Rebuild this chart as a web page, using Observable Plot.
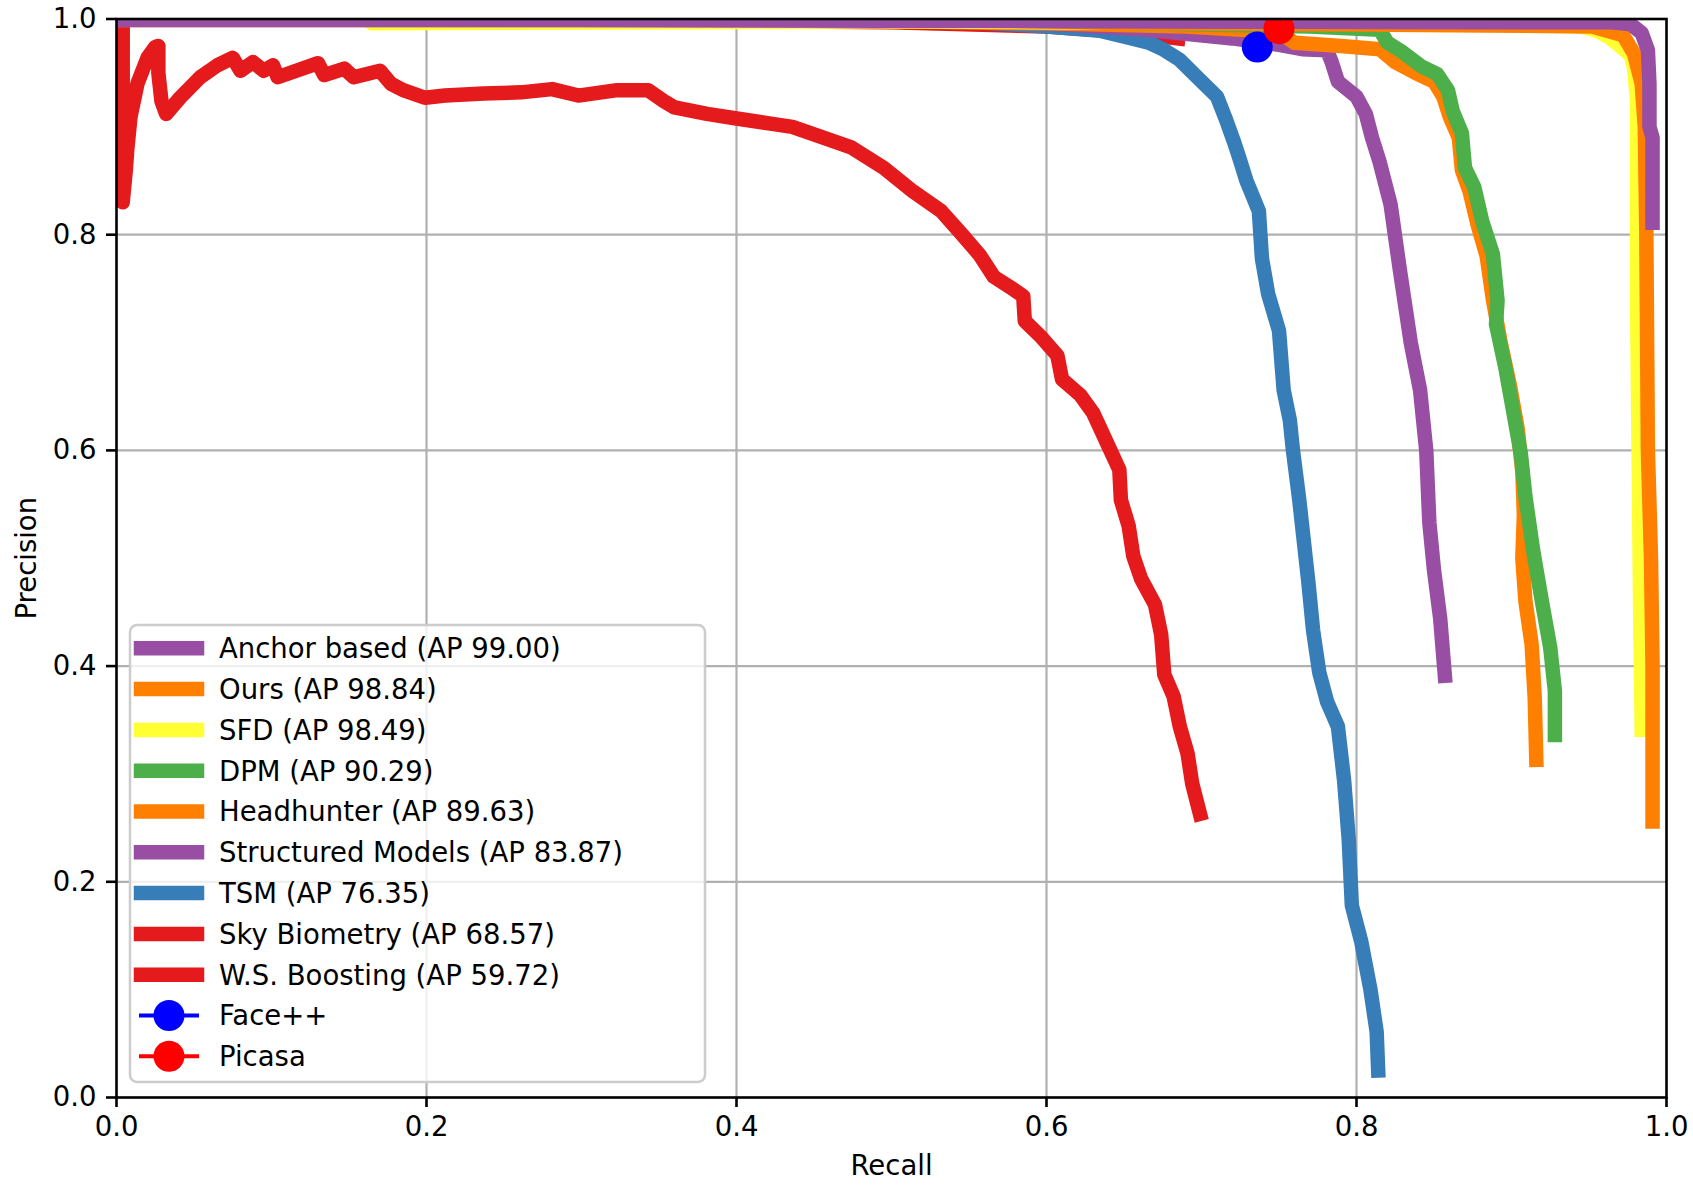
<!DOCTYPE html>
<html>
<head>
<meta charset="utf-8">
<script src="https://cdn.jsdelivr.net/npm/d3@7"></script>
<script src="https://cdn.jsdelivr.net/npm/@observablehq/plot@0.6"></script>
<style>
  html, body { margin: 0; padding: 0; background: white; }
  #chart { position: relative; width: 1693px; height: 1188px; }
</style>
</head>
<body>
<div id="chart"></div>
<script>
// ---------- data (recall, precision) ----------
const anchorBased = [[0,0.999],[0.3,0.999],[0.6,0.998],[0.9,0.997],[0.965,0.997],[0.977,0.995],[0.984,0.987],[0.988,0.971],[0.989,0.94],[0.989,0.9],[0.991,0.89],[0.991,0.811]];
const ours = [[0,0.999],[0.5,0.999],[0.6,0.998],[0.65,0.996],[0.8,0.995],[0.884,0.994],[0.952,0.993],[0.972,0.985],[0.979,0.968],[0.984,0.94],[0.986,0.9],[0.987,0.8],[0.988,0.6],[0.989,0.55],[0.99,0.5],[0.991,0.4],[0.991,0.256]];
const sfd = [[0,1.0],[0.16,1.0],[0.165,0.996],[0.38,0.997],[0.49,0.998],[0.6,0.997],[0.8,0.996],[0.9,0.995],[0.945,0.993],[0.955,0.989],[0.963,0.983],[0.97,0.975],[0.977,0.966],[0.979,0.955],[0.98,0.94],[0.981,0.925],[0.981,0.74],[0.982,0.6],[0.983,0.45],[0.984,0.341]];
const dpm = [[0,1.0],[0.6,0.998],[0.7,0.995],[0.77,0.993],[0.815,0.99],[0.82,0.978],[0.83,0.969],[0.842,0.956],[0.852,0.949],[0.859,0.934],[0.862,0.915],[0.868,0.894],[0.87,0.862],[0.876,0.844],[0.881,0.813],[0.888,0.782],[0.891,0.739],[0.89,0.717],[0.896,0.677],[0.901,0.637],[0.906,0.597],[0.909,0.557],[0.914,0.507],[0.92,0.457],[0.925,0.417],[0.928,0.377],[0.928,0.336]];
const headhunter = [[0,1.0],[0.45,0.999],[0.6,0.996],[0.69,0.993],[0.75,0.988],[0.76,0.978],[0.79,0.975],[0.815,0.972],[0.825,0.96],[0.838,0.95],[0.85,0.942],[0.856,0.928],[0.86,0.91],[0.866,0.89],[0.868,0.86],[0.873,0.84],[0.878,0.81],[0.884,0.78],[0.888,0.74],[0.893,0.7],[0.899,0.66],[0.904,0.62],[0.907,0.58],[0.908,0.54],[0.907,0.5],[0.909,0.46],[0.913,0.42],[0.915,0.37],[0.916,0.313]];
const structuredModels = [[0,1.0],[0.5,0.998],[0.6,0.996],[0.664,0.99],[0.72,0.982],[0.75,0.976],[0.765,0.972],[0.781,0.971],[0.784,0.96],[0.788,0.942],[0.8,0.928],[0.806,0.912],[0.81,0.89],[0.815,0.867],[0.822,0.828],[0.828,0.767],[0.835,0.7],[0.841,0.656],[0.845,0.6],[0.847,0.533],[0.85,0.489],[0.854,0.444],[0.857,0.391]];
const tsm = [[0,1.0],[0.5,0.999],[0.543,0.998],[0.6,0.993],[0.635,0.989],[0.655,0.982],[0.666,0.978],[0.675,0.972],[0.686,0.962],[0.698,0.945],[0.71,0.928],[0.716,0.906],[0.721,0.886],[0.724,0.873],[0.729,0.85],[0.737,0.822],[0.739,0.778],[0.743,0.745],[0.75,0.711],[0.753,0.656],[0.757,0.628],[0.759,0.6],[0.763,0.555],[0.766,0.516],[0.769,0.477],[0.772,0.433],[0.776,0.394],[0.781,0.367],[0.788,0.344],[0.792,0.294],[0.795,0.239],[0.797,0.178],[0.803,0.145],[0.809,0.1],[0.813,0.061],[0.814,0.025]];
const skyBiometry = [[0,1.0],[0.3,0.999],[0.5,0.997],[0.6,0.993],[0.65,0.988],[0.685,0.982]];
const wsBoosting = [[0.004,1.0],[0.004,0.83],[0.006,0.86],[0.007,0.88],[0.009,0.909],[0.0135,0.94],[0.02,0.964],[0.025,0.974],[0.027,0.975],[0.027,0.95],[0.029,0.924],[0.032,0.912],[0.041,0.927],[0.054,0.946],[0.065,0.957],[0.075,0.964],[0.08,0.952],[0.088,0.96],[0.095,0.952],[0.101,0.957],[0.104,0.946],[0.13,0.959],[0.134,0.948],[0.147,0.954],[0.153,0.946],[0.17,0.952],[0.177,0.94],[0.185,0.934],[0.199,0.927],[0.212,0.929],[0.237,0.931],[0.261,0.932],[0.281,0.935],[0.298,0.929],[0.323,0.934],[0.343,0.934],[0.353,0.924],[0.36,0.918],[0.381,0.912],[0.399,0.908],[0.422,0.903],[0.436,0.9],[0.456,0.89],[0.474,0.881],[0.495,0.862],[0.514,0.84],[0.532,0.822],[0.545,0.801],[0.557,0.781],[0.566,0.761],[0.579,0.749],[0.585,0.743],[0.586,0.72],[0.596,0.706],[0.607,0.688],[0.61,0.666],[0.622,0.651],[0.63,0.635],[0.639,0.607],[0.647,0.582],[0.648,0.554],[0.653,0.53],[0.656,0.502],[0.661,0.481],[0.67,0.457],[0.674,0.429],[0.676,0.392],[0.682,0.372],[0.686,0.344],[0.691,0.319],[0.694,0.291],[0.699,0.263]];
const facePP = [[0.736,0.974]];
const picasa = [[0.750,0.991]];

const seriesNames = ["Anchor based (AP 99.00)","Ours (AP 98.84)","SFD (AP 98.49)","DPM (AP 90.29)","Headhunter (AP 89.63)","Structured Models (AP 83.87)","TSM (AP 76.35)","Sky Biometry (AP 68.57)","W.S. Boosting (AP 59.72)"];
const seriesColors = ["#984ea3","#ff7f00","#ffff33","#4daf4a","#ff7f00","#984ea3","#377eb8","#e41a1c","#e41a1c"];
const seriesData = [anchorBased, ours, sfd, dpm, headhunter, structuredModels, tsm, skyBiometry, wsBoosting];
const pointNames = ["Face++","Picasa"];
const pointColors = ["#0000ff","#ff0000"];
const pointData = [facePP, picasa];
const xTicks = [0,0.2,0.4,0.6,0.8,1.0];
const yTicks = [0,0.2,0.4,0.6,0.8,1.0];
const gridTicks = [0.2,0.4,0.6,0.8];

// ---------- chart ----------
const FS = 27.5;
const LW = 14.5;
const lineMarks = seriesData.map((d, i) => Plot.line(d, {
  x: p => p[0], y: p => p[1], stroke: seriesColors[i], strokeWidth: LW,
  strokeLinecap: "square", strokeLinejoin: "round", clip: true
})).reverse();
const dotMarks = pointData.map((d, i) => Plot.dot(d, {
  x: p => p[0], y: p => p[1], r: 15.5, fill: pointColors[i], stroke: "none", clip: true
}));

const plot = Plot.plot({
  width: 1693, height: 1188,
  marginLeft: 116, marginRight: 27, marginTop: 18.5, marginBottom: 91,
  style: {fontFamily: "'DejaVu Sans', sans-serif", fontSize: FS + "px", background: "white", color: "black"},
  x: {domain: [0, 1]},
  y: {domain: [0, 1]},
  marks: [
    Plot.gridX(gridTicks, {stroke: "#b0b0b0", strokeOpacity: 1, strokeWidth: 2.2}),
    Plot.gridY(gridTicks, {stroke: "#b0b0b0", strokeOpacity: 1, strokeWidth: 2.2}),
    ...lineMarks,
    ...dotMarks,
    Plot.frame({stroke: "black", strokeWidth: 2.6}),
    Plot.axisX(xTicks, {tickFormat: d3.format(".1f"), tickSize: 10, tickPadding: 9, strokeWidth: 2.6, fontSize: FS, label: null}),
    Plot.axisY(yTicks, {tickFormat: d3.format(".1f"), tickSize: 10, tickPadding: 10, strokeWidth: 2.6, fontSize: FS, label: null}),
    Plot.text(["Recall"], {frameAnchor: "bottom", dy: 69, text: d => d, fontSize: FS, lineAnchor: "middle", textAnchor: "middle"}),
    Plot.text(["Precision"], {frameAnchor: "left", dx: -89, text: d => d, fontSize: FS, rotate: -90, lineAnchor: "middle", textAnchor: "middle"})
  ]
});
document.getElementById("chart").appendChild(plot);

// ---------- legend (inside the axes, lower left) ----------
const svg = d3.select(plot);
const lg = svg.append("g").attr("font-family", "'DejaVu Sans', sans-serif").attr("font-size", FS).attr("text-anchor", "start");
lg.append("rect").attr("x", 130).attr("y", 625).attr("width", 575).attr("height", 457).attr("rx", 7)
  .attr("fill", "white").attr("fill-opacity", 0.8).attr("stroke", "#cccccc").attr("stroke-width", 2.5);
const rowY = i => 648.3 + i * 40.8;
const entries = seriesNames.map((n, i) => ({name: n, color: seriesColors[i], kind: "line"}))
  .concat(pointNames.map((n, i) => ({name: n, color: pointColors[i], kind: "point"})));
entries.forEach((e, i) => {
  const y = rowY(i);
  if (e.kind === "line") {
    lg.append("line").attr("x1", 141).attr("x2", 197).attr("y1", y).attr("y2", y)
      .attr("stroke", e.color).attr("stroke-width", LW).attr("stroke-linecap", "square");
  } else {
    lg.append("line").attr("x1", 141).attr("x2", 197).attr("y1", y).attr("y2", y)
      .attr("stroke", e.color).attr("stroke-width", 4).attr("stroke-linecap", "square");
    lg.append("circle").attr("cx", 169).attr("cy", y).attr("r", 15.5).attr("fill", e.color);
  }
  lg.append("text").attr("x", 219).attr("y", y).attr("dy", "0.36em").attr("fill", "black")
    .attr("text-anchor", "start").text(e.name);
});
</script>
</body>
</html>
